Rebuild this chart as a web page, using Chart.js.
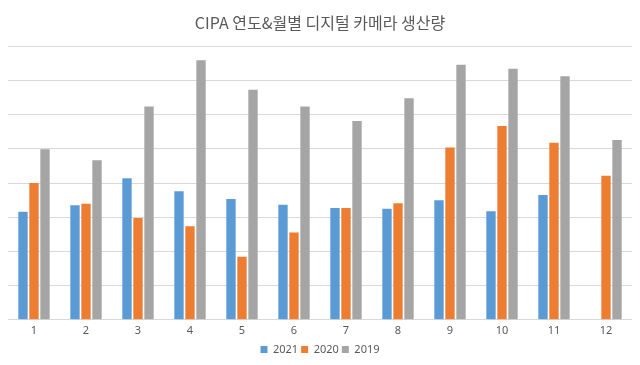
<!DOCTYPE html>
<html><head><meta charset="utf-8">
<script src="https://cdn.jsdelivr.net/npm/chart.js@4/dist/chart.umd.min.js"></script>
<style>html,body{margin:0;padding:0;background:#fff}#wrap{width:640px;height:365px}</style>
</head><body><div id="wrap"><canvas id="c" width="640" height="365"></canvas></div>
<script>
const months = ['1','2','3','4','5','6','7','8','9','10','11','12'];
const y2021 = [632, 670, 828, 752, 707, 673, 654, 650, 699, 635, 730, null];
const y2020 = [800, 678, 596, 547, 368, 510, 654, 681, 1008, 1133, 1035, 843];
const y2019 = [998, 933, 1248, 1518, 1345, 1248, 1162, 1296, 1491, 1468, 1425, 1051];
const seriesNames = ['2021', '2020', '2019'];
const colors = ['#5b9bd5', '#ed7d31', '#a5a5a5'];

new Chart(document.getElementById('c'), {
  type: 'bar',
  data: {
    labels: months,
    datasets: [y2021, y2020, y2019].map((d, i) => ({
      label: seriesNames[i], data: d, backgroundColor: colors[i],
      categoryPercentage: 0.635, barPercentage: 0.85
    }))
  },
  options: {
    responsive: false, animation: false,
    layout: { padding: { left: 8, right: 8, top: 0, bottom: 0 } },
    plugins: {
      title: { display: true, text: 'CIPA 연도&월별 디지털 카메라 생산량', color: '#595959',
        font: { family: "'Noto Sans CJK KR', sans-serif", size: 16, weight: 'normal' },
        padding: { top: 13, bottom: 14 } },
      legend: { position: 'bottom', labels: { boxWidth: 7, boxHeight: 7, color: '#595959',
        font: { family: "'Noto Sans', sans-serif", size: 11 }, padding: 3 } },
      tooltip: { enabled: false }
    },
    scales: {
      x: { grid: { display: false, drawTicks: false }, border: { display: false },
        ticks: { color: '#595959', font: { family: "'Noto Sans', sans-serif", size: 11 }, padding: 4 } },
      y: { min: 0, max: 1600, ticks: { display: false, stepSize: 200 },
        grid: { color: '#d9d9d9', drawTicks: false }, border: { display: false } }
    }
  }
});
</script></body></html>
